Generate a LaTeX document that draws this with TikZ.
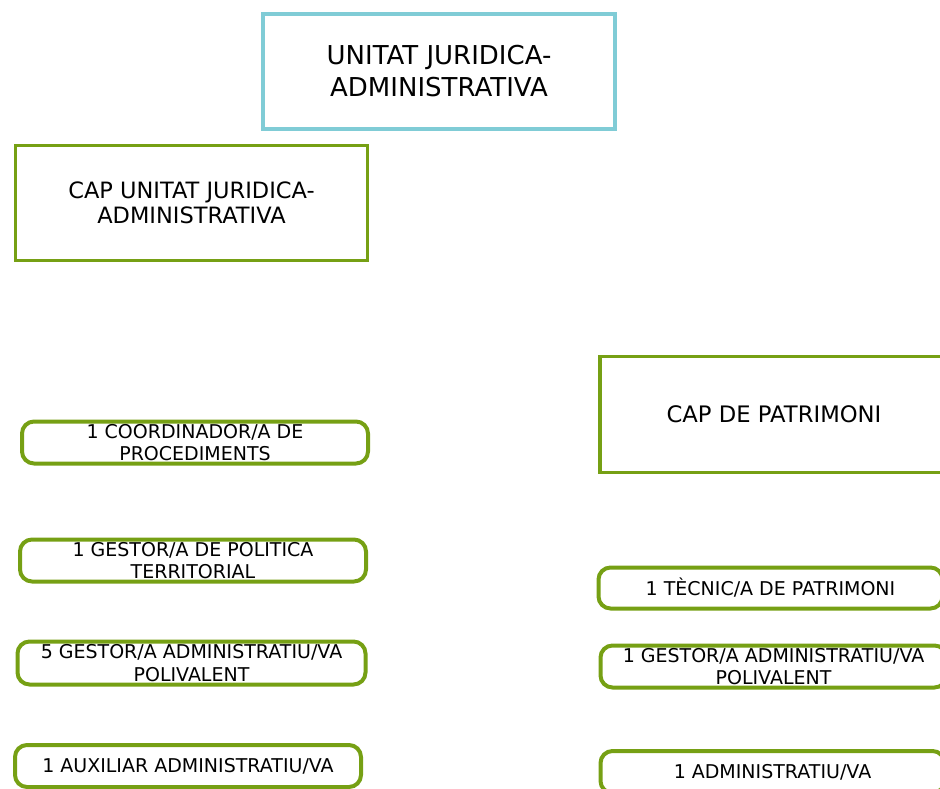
\documentclass[tikz,border=0pt]{standalone}
\usepackage{fontspec}
\setmainfont{DejaVu Sans}
\definecolor{boxgreen}{RGB}{118,160,20}
\definecolor{boxcyan}{RGB}{128,204,214}
\tikzset{
  headbox/.style={draw=#1,line width=3.5pt,inner sep=0pt,align=center,
    minimum width=352,minimum height=115},
  staffbox/.style={draw=boxgreen,line width=4pt,rounded corners=12pt,inner sep=0pt,
    align=center,minimum width=346,minimum height=42,
    font=\fontsize{19}{22.7}\selectfont}
}
\begin{document}
\begin{tikzpicture}[x=1pt,y=-1pt]

% page size:
\pgfmathsetmacro\pwidth{940};
\pgfmathsetmacro\pheight{789};

\useasboundingbox (0,0) rectangle (\pwidth,\pheight);
\clip (0,0) rectangle (\pwidth,\pheight);

% heads
\node[headbox=boxcyan,font=\fontsize{26}{32}\selectfont] (unitat) at (439,71.5)
  {UNITAT JURIDICA-\\ADMINISTRATIVA};
\node[headbox=boxgreen,font=\fontsize{22.5}{25}\selectfont] (capunitat) at (191.5,203)
  {CAP UNITAT JURIDICA-\\ADMINISTRATIVA};
\node[headbox=boxgreen,font=\fontsize{22.7}{25}\selectfont,minimum width=348,minimum height=116] (cappatri) at (774,414.5)
  {CAP DE PATRIMONI};

% left column
\node[staffbox] (coord) at (195,442.5) {1 COORDINADOR/A DE\\PROCEDIMENTS};
\node[staffbox] (politica) at (193,560.5) {1 GESTOR/A DE POLITICA\\TERRITORIAL};
\node[staffbox,minimum width=348,minimum height=43] (gestorfive) at (191.5,663) {5 GESTOR/A ADMINISTRATIU/VA\\POLIVALENT};
\node[staffbox] (auxiliar) at (188,766) {1 AUXILIAR ADMINISTRATIU/VA};

% right column
\node[staffbox,minimum width=344,minimum height=41] (tecnic) at (770.5,588) {1 TÈCNIC/A DE PATRIMONI};
\node[staffbox] (gestorone) at (773.5,666.5) {1 GESTOR/A ADMINISTRATIU/VA\\POLIVALENT};
\node[staffbox,minimum width=344] (admin) at (772.5,772) {1 ADMINISTRATIU/VA};

\end{tikzpicture}
\end{document}
